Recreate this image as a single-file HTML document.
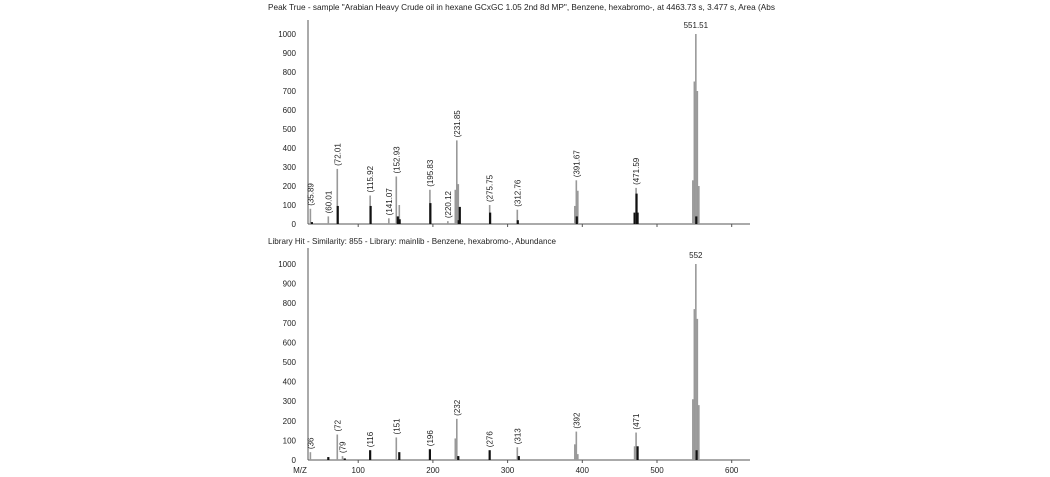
<!DOCTYPE html>
<html><head><meta charset="utf-8"><style>
html,body{margin:0;padding:0;background:#fff;width:1050px;height:477px;overflow:hidden}
svg{display:block;font-family:"Liberation Sans",Arial,sans-serif}
</style></head><body>
<svg id="s" width="1050" height="477" xmlns="http://www.w3.org/2000/svg">
<text x="268" y="10" font-size="8.2" fill="#222" textLength="507" lengthAdjust="spacingAndGlyphs">Peak True - sample "Arabian Heavy Crude oil in hexane GCxGC 1.05 2nd 8d MP", Benzene, hexabromo-, at 4463.73 s, 3.477 s, Area (Abs</text>
<text x="268" y="244" font-size="8.2" fill="#222" textLength="288" lengthAdjust="spacingAndGlyphs">Library Hit - Similarity: 855 - Library: mainlib - Benzene, hexabromo-, Abundance</text>
</svg>
<script>
const s=document.getElementById('s');const NS='http://www.w3.org/2000/svg';
function el(t,a,txt){const e=document.createElementNS(NS,t);for(const k in a)e.setAttribute(k,a[k]);if(txt!==undefined)e.textContent=txt;s.appendChild(e);return e;}
const X=m=>283.5+0.747*m;
function panel(y0,sc,top,peaks,labels,xlabels){
  el('line',{x1:308,y1:top,x2:308,y2:y0,stroke:'#555','stroke-width':1});
  el('line',{x1:308,y1:y0,x2:750,y2:y0,stroke:'#555','stroke-width':1});
  for(let v=0;v<=1000;v+=100){const y=y0-v*sc;el('text',{x:296,y:y+3,'font-size':8,'text-anchor':'end',fill:'#222'},String(v));}
  for(let m=100;m<=600;m+=100){el('line',{x1:X(m),y1:y0,x2:X(m),y2:y0+3,stroke:'#555'});
    if(xlabels)el('text',{x:X(m),y:y0+13,'font-size':8,'text-anchor':'middle',fill:'#222'},String(m));}
  if(xlabels)el('text',{x:300,y:y0+13,'font-size':8,'text-anchor':'middle',fill:'#222'},'M/Z');
  for(const [m,h,c] of peaks){el('line',{x1:X(m),y1:y0,x2:X(m),y2:y0-h*sc,stroke:c?'#111':'#999','stroke-width':c?2.2:1.6});}
  for(const [m,h,t,rot] of labels){const x=X(m),y=y0-h*sc-3;
    if(rot){el('text',{x:x+3,y:y,'font-size':8,fill:'#222',transform:`rotate(-90 ${x+3} ${y})`},'('+t);}
    else el('text',{x:x,y:y-3,'font-size':8,'text-anchor':'middle',fill:'#222'},t);}
}
panel(224,0.19,20,[
[36,80],[38,10,1],[60,40],[72,290],[72.6,95,1],[116,150],[116.6,95,1],[141,30],[151,250],[155,100],[153,40,1],[155.5,25,1],
[196,180],[196.6,110,1],[220,15],[230,180],[232,440],[234,210],[236,90,1],[234.6,20,1],[276,100],[276.6,60,1],[313,75],[313.6,20,1],
[390,95],[392,230],[394,175],[392.6,40,1],[470,60,1],[472,190],[472.6,160,1],[474,60,1],
[548,230],[550,750],[552,1000],[554,700],[556,200],[552.6,40,1]
],[[36,80,'35.89',1],[60,40,'60.01',1],[72,290,'72.01',1],[116,150,'115.92',1],[141,30,'141.07',1],[151,250,'152.93',1],
[196,180,'195.83',1],[220,15,'220.12',1],[232,440,'231.85',1],[276,100,'275.75',1],[313,75,'312.76',1],[392,230,'391.67',1],[472,190,'471.59',1],[552,1000,'551.51',0]],false);
panel(460,0.196,248,[
[36,40],[60,15,1],[72,130],[79,20],[82,8,1],[116,50,1],[151,115],[155,40,1],[196,55,1],[230,110],[232,210],[234,20,1],[276,50,1],
[313,65],[315,20,1],[390,80],[392,145],[394,30],[470,70],[472,140],[474,70,1],
[548,310],[550,770],[552,1000],[554,720],[556,280],[553,50,1]
],[[36,40,'36',1],[72,130,'72',1],[79,20,'79',1],[116,50,'116',1],[151,115,'151',1],[196,55,'196',1],[232,210,'232',1],[276,50,'276',1],[313,65,'313',1],[392,145,'392',1],[472,140,'471',1],[552,1000,'552',0]],true);
</script>
</body></html>
